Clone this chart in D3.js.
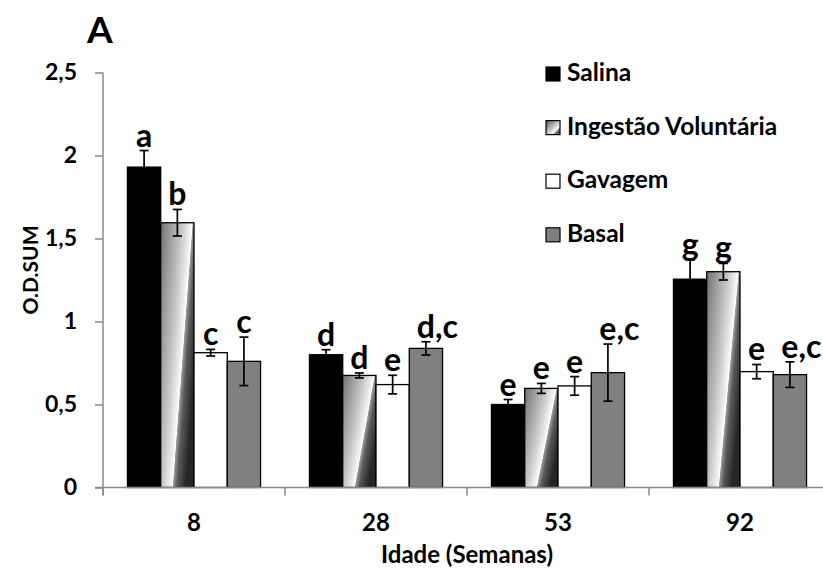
<!DOCTYPE html>
<html>
<head>
<meta charset="utf-8">
<script src="https://cdn.jsdelivr.net/npm/d3@7"></script>
<style>
  html, body { margin: 0; padding: 0; background: #fff; }
  svg { display: block; font-family: Lato, "Open Sans", sans-serif; font-weight: bold; }
</style>
</head>
<body>
<svg id="chart" width="823" height="572"></svg>
<script>
// ---- data ----
const categories = ["8", "28", "53", "92"];
const series = ["Salina", "Ingestão Voluntária", "Gavagem", "Basal"];
const salina      = [1.93, 0.80, 0.50, 1.255];
const salinaErr   = [0.10, 0.03, 0.03, 0.115];
const ingestao    = [1.595, 0.675, 0.597, 1.30];
const ingestaoErr = [0.08, 0.015, 0.03, 0.05];
const gavagem     = [0.812, 0.62, 0.612, 0.698];
const gavagemErr  = [0.02, 0.056, 0.056, 0.043];
const basal       = [0.76, 0.838, 0.692, 0.68];
const basalErr    = [0.146, 0.04, 0.172, 0.077];
const salinaLbl   = ["a", "d", "e", "g"];
const ingestaoLbl = ["b", "d", "e", "g"];
const gavagemLbl  = ["c", "e", "e", "e"];
const basalLbl    = ["c", "d,c", "e,c", "e,c"];
const yTicks      = [0, 0.5, 1, 1.5, 2, 2.5];
const yTickLabels = ["0", "0,5", "1", "1,5", "2", "2,5"];

const values = [salina, ingestao, gavagem, basal];
const errs   = [salinaErr, ingestaoErr, gavagemErr, basalErr];
const lbls   = [salinaLbl, ingestaoLbl, gavagemLbl, basalLbl];
const fills  = ["#000000", "url(#gradBar)", "#ffffff", "#808080"];
const legendFills = ["#000000", "url(#gradLeg)", "#ffffff", "#808080"];

const data = [];
categories.forEach((c, ci) => {
  series.forEach((s, si) => {
    data.push({cat: c, ser: s, si, v: values[si][ci], e: errs[si][ci], lbl: lbls[si][ci]});
  });
});

// ---- layout ----
const svg = d3.select("#chart");
const axisColor = "#8a8a8a";

const x = d3.scaleBand().domain(categories).range([103, 831]).paddingInner(0).paddingOuter(0);
const x1 = d3.scaleBand().domain(series).range([0, x.bandwidth()]).paddingInner(0).paddingOuter(0.735);
const y = d3.scaleLinear().domain([0, 2.5]).range([487.5, 72.5]);

// gradients
const defs = svg.append("defs");
const g1 = defs.append("linearGradient").attr("id", "gradBar")
  .attr("gradientUnits", "objectBoundingBox")
  .attr("x1", 0).attr("y1", 0).attr("x2", 1).attr("y2", 0.6);
[[0, "#727272"], [0.45, "#c4c4c4"], [0.67, "#f4f4f4"], [0.70, "#ffffff"], [0.715, "#9a9a9a"],
 [0.80, "#5a5a5a"], [0.95, "#333333"], [1, "#262626"]].forEach(([o, c]) =>
  g1.append("stop").attr("offset", o).attr("stop-color", c));
const g2 = defs.append("linearGradient").attr("id", "gradLeg")
  .attr("gradientUnits", "objectBoundingBox")
  .attr("x1", 0).attr("y1", 0).attr("x2", 1).attr("y2", 1);
[[0, "#555555"], [0.45, "#bbbbbb"], [0.72, "#ffffff"], [0.76, "#888888"], [1, "#333333"]].forEach(([o, c]) =>
  g2.append("stop").attr("offset", o).attr("stop-color", c));

// y axis
const yAxis = d3.axisLeft(y).tickValues(yTicks).tickFormat((d, i) => yTickLabels[i])
  .tickSize(8).tickPadding(18).tickSizeOuter(0);
const ya = svg.append("g").attr("transform", "translate(103,0)").call(yAxis);
ya.select(".domain").remove();
ya.selectAll(".tick line").attr("stroke", axisColor).attr("stroke-width", 1.5);
ya.selectAll(".tick text").attr("font-size", 23).attr("fill", "#000")
  .attr("font-family", "Lato, sans-serif").attr("font-weight", "bold");
svg.append("line").attr("x1", 103).attr("x2", 103).attr("y1", y(2.5)).attr("y2", y(0) + 8)
  .attr("stroke", axisColor).attr("stroke-width", 1.5);

// bars
const groups = svg.append("g").selectAll("g").data(categories).join("g")
  .attr("transform", d => `translate(${x(d)},0)`);

groups.selectAll("rect").data(c => data.filter(d => d.cat === c)).join("rect")
  .attr("x", d => x1(d.ser))
  .attr("y", d => y(d.v))
  .attr("width", x1.bandwidth())
  .attr("height", d => y(0) - y(d.v))
  .attr("fill", d => fills[d.si])
  .attr("stroke", "#000").attr("stroke-width", 1.3);

// error bars
const eb = groups.selectAll("g.err").data(c => data.filter(d => d.cat === c)).join("g").attr("class", "err");
eb.append("line")
  .attr("x1", d => x1(d.ser) + x1.bandwidth() / 2).attr("x2", d => x1(d.ser) + x1.bandwidth() / 2)
  .attr("y1", d => y(d.v + d.e)).attr("y2", d => y(d.v - d.e));
eb.append("line")
  .attr("x1", d => x1(d.ser) + x1.bandwidth() / 2 - 4.5).attr("x2", d => x1(d.ser) + x1.bandwidth() / 2 + 4.5)
  .attr("y1", d => y(d.v + d.e)).attr("y2", d => y(d.v + d.e));
eb.append("line")
  .attr("x1", d => x1(d.ser) + x1.bandwidth() / 2 - 4.5).attr("x2", d => x1(d.ser) + x1.bandwidth() / 2 + 4.5)
  .attr("y1", d => y(d.v - d.e)).attr("y2", d => y(d.v - d.e));
eb.selectAll("line").attr("stroke", "#000").attr("stroke-width", 1.7);

// significance labels
groups.selectAll("text.lbl").data(c => data.filter(d => d.cat === c)).join("text")
  .attr("class", "lbl")
  .attr("font-size", 32)
  .attr("text-anchor", "start")
  .attr("y", d => y(d.v + d.e) - 4)
  .text(d => d.lbl)
  .each(function(d) {
    const first = this.getSubStringLength(0, 1);
    d3.select(this).attr("x", x1(d.ser) + x1.bandwidth() / 2 - first / 2);
  });

// x axis
svg.append("line").attr("x1", 95).attr("x2", 823).attr("y1", y(0)).attr("y2", y(0))
  .attr("stroke", axisColor).attr("stroke-width", 1.5);
svg.append("g").selectAll("line").data(categories).join("line")
  .attr("x1", d => x(d)).attr("x2", d => x(d))
  .attr("y1", y(0)).attr("y2", y(0) + 8)
  .attr("stroke", axisColor).attr("stroke-width", 1.5);
const xAxis = d3.axisBottom(x).tickSize(0).tickPadding(26);
const xa = svg.append("g").attr("transform", `translate(0,${y(0)})`).call(xAxis);
xa.select(".domain").remove();
xa.selectAll(".tick text").attr("font-size", 24).attr("fill", "#000")
  .attr("font-family", "Lato, sans-serif").attr("font-weight", "bold");

// axis titles
svg.append("text").attr("x", 467).attr("y", 563).attr("text-anchor", "middle")
  .attr("font-size", 24).text("Idade (Semanas)");
svg.append("text").attr("transform", "translate(38,270) rotate(-90)").attr("text-anchor", "middle")
  .attr("font-size", 21).text("O.D.SUM");

// panel letter
svg.append("text").attr("x", 87).attr("y", 43).attr("font-size", 37).text("A");

// legend
const leg = svg.append("g").selectAll("g").data(series).join("g")
  .attr("transform", (d, i) => `translate(546,${81 + i * 53.6})`);
leg.append("rect").attr("x", 0).attr("y", -14).attr("width", 14).attr("height", 14)
  .attr("fill", (d, i) => legendFills[i]).attr("stroke", "#000").attr("stroke-width", 1.2);
leg.append("text").attr("x", 21).attr("y", 0).attr("font-size", 24.5).text(d => d);
</script>
</body>
</html>
